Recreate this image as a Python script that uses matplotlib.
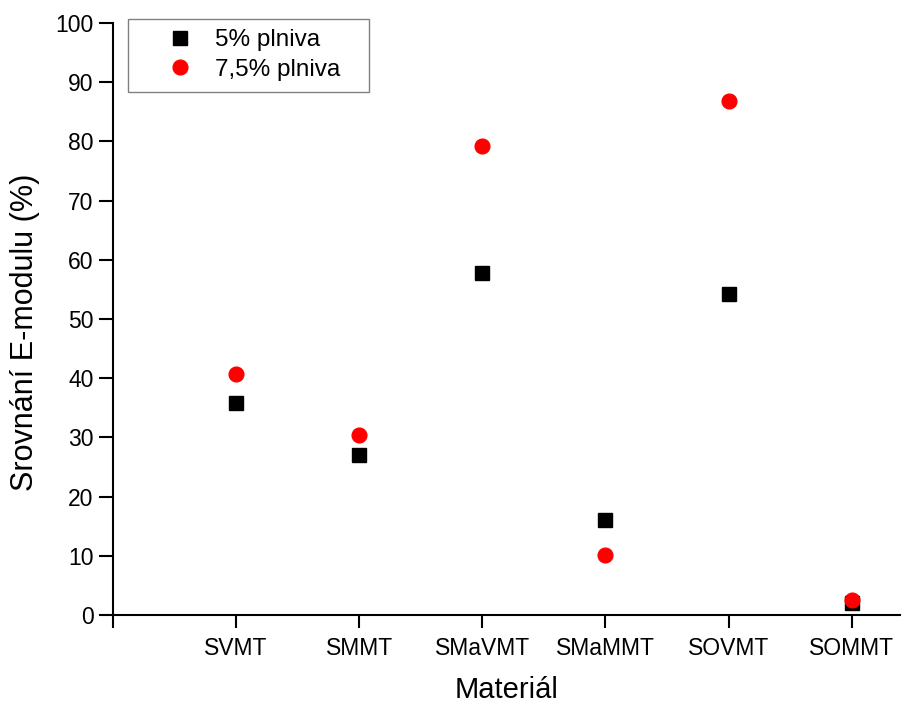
import matplotlib.pyplot as plt
import matplotlib.patches as patches
import numpy as np

plt.rcParams['font.family'] = ['Liberation Sans', 'DejaVu Sans']

materialy = ['SVMT', 'SMMT', 'SMaVMT', 'SMaMMT', 'SOVMT', 'SOMMT']
plnivo_5 = [35.8, 27.0, 57.8, 16.0, 54.2, 2.0]
plnivo_75 = [40.7, 30.4, 79.2, 10.1, 86.8, 2.5]

x = np.arange(1, len(materialy) + 1)

W, H = 901, 704
fig = plt.figure(figsize=(W / 100, H / 100), dpi=100)
ax = fig.add_axes([0.1254, 0.1264, 0.8746, 0.8409])

ax.plot(x, plnivo_5, linestyle='none', marker='s', markersize=10,
        color='black', label='5% plniva')
ax.plot(x, plnivo_75, linestyle='none', marker='o', markersize=10.6,
        color='red', label='7,5% plniva')

ax.set_xlim(0, 6.4)
ax.set_ylim(0, 100)
ax.set_xticks(np.concatenate(([0], x)))
ax.set_xticklabels([''] + materialy)
ax.set_yticks(np.arange(0, 101, 10))

ax.spines['top'].set_visible(False)
ax.spines['right'].set_visible(False)
ax.spines['left'].set_linewidth(1.5)
ax.spines['bottom'].set_linewidth(1.5)
ax.tick_params(axis='x', direction='out', length=9, width=1.5, labelsize=16.5, pad=7)
ax.tick_params(axis='y', direction='out', length=10, width=1.5, labelsize=16.5, pad=4)

ax.set_xlabel('Materiál', fontsize=21, labelpad=11)
ax.set_ylabel('Srovnání E-modulu (%)', fontsize=22)
ax.yaxis.set_label_coords(-0.092, 0.478)

# legenda bez rámu, rám se kreslí zvlášť
leg = ax.legend(loc='upper left', bbox_to_anchor=(156 / W, 1 - 29 / H),
                bbox_transform=fig.transFigure, fontsize=17.5, frameon=False,
                handlelength=2.0, handletextpad=0.44, borderpad=0,
                labelspacing=0.31, borderaxespad=0)
ramecek = patches.Rectangle((128 / W, 1 - 92 / H), 241 / W, 73 / H,
                            transform=fig.transFigure, fill=False,
                            edgecolor='gray', linewidth=1.0)
fig.add_artist(ramecek)

fig.savefig('out.png', dpi=100)
